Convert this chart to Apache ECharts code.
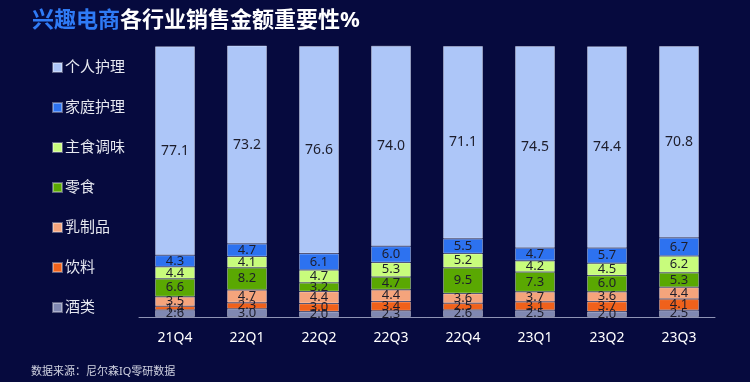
<!DOCTYPE html>
<html><head><meta charset="utf-8">
<script src="https://cdn.jsdelivr.net/npm/echarts@6/dist/echarts.min.js"></script>
<style>html,body{margin:0;padding:0;background:#060a3e;}#c{width:750px;height:382px;}</style>
</head><body><div id="c"></div>
<script>
const categories = ['21Q4','22Q1','22Q2','22Q3','22Q4','23Q1','23Q2','23Q3'];
const jiulei   = [2.6, 3.0, 2.0, 2.3, 2.6, 2.5, 2.0, 2.5];
const yinliao  = [1.4, 2.3, 3.0, 3.4, 2.5, 3.1, 3.7, 4.1];
const ruzhipin = [3.5, 4.7, 4.4, 4.4, 3.6, 3.7, 3.6, 4.4];
const lingshi  = [6.6, 8.2, 3.2, 4.7, 9.5, 7.3, 6.0, 5.3];
const zhushi   = [4.4, 4.1, 4.7, 5.3, 5.2, 4.2, 4.5, 6.2];
const jiating  = [4.3, 4.7, 6.1, 6.0, 5.5, 4.7, 5.7, 6.7];
const geren    = [77.1, 73.2, 76.6, 74.0, 71.1, 74.5, 74.4, 70.8];

const seriesDefs = [
  ['酒类', jiulei, '#8088b2'],
  ['饮料', yinliao, '#f0611b'],
  ['乳制品', ruzhipin, '#f5a47c'],
  ['零食', lingshi, '#5aa802'],
  ['主食调味', zhushi, '#c8fc7c'],
  ['家庭护理', jiating, '#2d72f0'],
  ['个人护理', geren, '#adc6f8']
];
const font = '"Noto Sans", "Noto Sans CJK SC", sans-serif';
const chart = echarts.init(document.getElementById('c'));
chart.setOption({
  backgroundColor: '#060a3e',
  animation: false,
  title: [{
    text: '{a|兴趣电商}{b|各行业销售金额重要性%}',
    left: 27, top: 5,
    textStyle: {
      rich: {
        a: {fontSize: 22, fontWeight: 'bold', color: '#2f7bf6', fontFamily: font},
        b: {fontSize: 22, fontWeight: 'bold', color: '#ffffff', fontFamily: font}
      }
    }
  }, {
    text: '数据来源：尼尔森IQ零研数据',
    left: 26, top: 361,
    textStyle: {fontSize: 11, fontWeight: 'normal', color: '#d0d2e0', fontFamily: font}
  }],
  legend: {
    orient: 'vertical',
    left: 47, top: 55,
    itemWidth: 9, itemHeight: 9,
    itemGap: 25,
    icon: 'rect',
    data: ['个人护理','家庭护理','主食调味','零食','乳制品','饮料','酒类'],
    textStyle: {color: '#e6e8f0', fontSize: 15, lineHeight: 15, fontFamily: font, padding: [0,0,0,-2]}
  },
  grid: {left: 139, right: 35, top: 46, bottom: 65},
  xAxis: {
    type: 'category', data: categories,
    axisLine: {lineStyle: {color: '#8e93b5', width: 1}},
    axisTick: {show: false},
    axisLabel: {color: '#ffffff', fontSize: 14, margin: 14, fontFamily: font}
  },
  yAxis: {type: 'value', min: 0, max: 100, show: false, splitLine: {show: false}},
  series: seriesDefs.map(([name, data, color]) => ({
    name, type: 'bar', stack: 'all', data, barWidth: 40,
    itemStyle: {color, borderColor: 'rgba(255,255,255,0.35)', borderWidth: 1},
    label: {
      show: true, position: 'inside', color: '#1d1d2b',
      fontSize: name === '个人护理' ? 14 : 13, fontFamily: font,
      formatter: p => p.value.toFixed(1)
    }
  }))
});
</script></body></html>
